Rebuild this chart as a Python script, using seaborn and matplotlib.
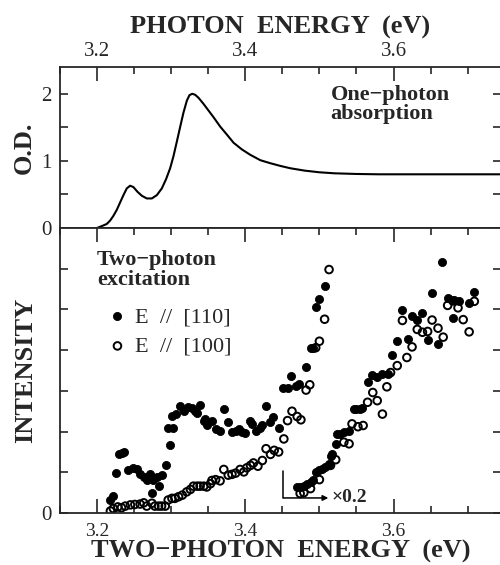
import matplotlib
matplotlib.use("Agg")
import matplotlib.pyplot as plt
from matplotlib.ticker import MultipleLocator
import seaborn as sns

# one-photon absorption (O.D.)
od_energy = [3.200, 3.2068, 3.2131, 3.2176, 3.222, 3.2266, 3.2311, 3.2356, 3.2401, 3.2446,
             3.249, 3.2545, 3.2604, 3.2671, 3.2739, 3.2807, 3.2874, 3.2932, 3.2986, 3.3031,
             3.3077, 3.3122, 3.3166, 3.3212, 3.3247, 3.3284, 3.3324, 3.3369, 3.3436, 3.3504,
             3.3572, 3.3662, 3.3753, 3.3842, 3.3955, 3.4068, 3.4203, 3.4338, 3.4473, 3.4608,
             3.480, 3.500, 3.520, 3.550, 3.580, 3.650, 3.745]
od_value = [0.00, 0.03, 0.06, 0.11, 0.18, 0.27, 0.38, 0.49, 0.59, 0.63,
            0.61, 0.54, 0.48, 0.44, 0.44, 0.49, 0.59, 0.73, 0.89, 1.07,
            1.29, 1.51, 1.72, 1.90, 1.98, 2.00, 1.985, 1.94, 1.85, 1.75,
            1.65, 1.51, 1.39, 1.27, 1.17, 1.09, 1.01, 0.965, 0.925, 0.89,
            0.855, 0.83, 0.815, 0.805, 0.80, 0.80, 0.80]

# two-photon excitation, E // [110] (filled)
e110_energy = [3.218, 3.221, 3.226, 3.229, 3.233, 3.237, 3.242, 3.248, 3.254, 3.258,
               3.263, 3.267, 3.272, 3.274, 3.276, 3.281, 3.283, 3.287, 3.293, 3.298,
               3.296, 3.302, 3.301, 3.307, 3.312, 3.317, 3.323, 3.328, 3.332, 3.335,
               3.339, 3.344, 3.346, 3.349, 3.355, 3.361, 3.366, 3.371, 3.377, 3.382,
               3.387, 3.391, 3.396, 3.400, 3.406, 3.409, 3.414, 3.420, 3.423, 3.428,
               3.434, 3.438, 3.445, 3.451, 3.457, 3.461, 3.468, 3.473, 3.482, 3.488,
               3.491, 3.495, 3.500, 3.507,
               3.470, 3.474, 3.479, 3.483, 3.488, 3.492, 3.495, 3.499, 3.504, 3.508,
               3.513, 3.515, 3.517, 3.522, 3.524, 3.528, 3.533, 3.540, 3.546, 3.550,
               3.555, 3.558, 3.565, 3.571, 3.578, 3.585, 3.592, 3.598, 3.605, 3.612,
               3.619, 3.625, 3.632, 3.639, 3.646, 3.652, 3.660, 3.666, 3.673, 3.680,
               3.682, 3.688, 3.702, 3.709]
e110_value = [0.33, 0.42, 0.99, 1.44, 1.48, 1.51, 1.05, 1.11, 1.09, 0.97,
              0.89, 0.80, 0.97, 0.50, 0.80, 0.89, 0.66, 0.93, 1.17, 1.66,
              2.09, 2.09, 2.39, 2.43, 2.63, 2.51, 2.61, 2.59, 2.51, 2.46,
              2.66, 2.27, 2.31, 2.15, 2.27, 2.07, 2.02, 2.55, 2.23, 1.98,
              2.02, 2.07, 1.98, 1.96, 2.27, 2.19, 2.02, 2.10, 2.15, 2.63,
              2.23, 2.35, 2.10, 3.08, 3.08, 3.37, 3.12, 3.18, 3.59, 4.06,
              4.06, 5.07, 5.25, 5.58,
              0.63, 0.64, 0.66, 0.72, 0.76, 0.82, 1.01, 1.05, 1.09, 1.13,
              1.21, 1.41, 1.44, 1.70, 1.94, 1.94, 1.98, 2.01, 2.55, 2.55,
              2.55, 2.58, 3.23, 3.40, 3.33, 3.42, 3.41, 3.89, 4.22, 4.99,
              4.28, 4.85, 4.74, 4.92, 4.24, 5.41, 4.16, 6.16, 5.29, 4.80,
              5.24, 5.22, 5.16, 5.43]

# two-photon excitation, E // [100] (open)
e100_energy = [3.218, 3.222, 3.228, 3.233, 3.238, 3.245, 3.251, 3.258, 3.263, 3.267,
               3.274, 3.278, 3.283, 3.287, 3.292, 3.296, 3.301, 3.305, 3.310, 3.315,
               3.321, 3.326, 3.330, 3.335, 3.339, 3.344, 3.348, 3.353, 3.355, 3.360,
               3.366, 3.371, 3.377, 3.382, 3.387, 3.393, 3.398, 3.402, 3.407, 3.411,
               3.417, 3.423, 3.428, 3.434, 3.439, 3.445, 3.452, 3.457, 3.463, 3.470,
               3.475, 3.482, 3.487, 3.495, 3.500, 3.507, 3.513,
               3.474, 3.479, 3.488, 3.500, 3.515, 3.522, 3.533, 3.540, 3.544, 3.552,
               3.559, 3.565, 3.572, 3.578, 3.585, 3.591, 3.596, 3.605, 3.618, 3.625,
               3.612, 3.632, 3.639, 3.646, 3.652, 3.660, 3.667, 3.673, 3.680, 3.687,
               3.694, 3.702, 3.709]
e100_value = [0.05, 0.11, 0.15, 0.13, 0.17, 0.20, 0.21, 0.22, 0.25, 0.17,
              0.24, 0.17, 0.17, 0.17, 0.17, 0.32, 0.36, 0.36, 0.40, 0.44,
              0.52, 0.58, 0.66, 0.66, 0.66, 0.66, 0.64, 0.72, 0.80, 0.82,
              0.79, 1.07, 0.93, 0.95, 0.98, 1.07, 1.01, 1.11, 1.17, 1.23,
              1.15, 1.29, 1.58, 1.44, 1.54, 1.50, 1.82, 2.27, 2.50, 2.37,
              2.29, 3.02, 3.15, 4.06, 4.22, 4.76, 5.98,
              0.48, 0.50, 0.60, 0.82, 1.17, 1.31, 1.74, 1.70, 2.19, 2.12,
              2.15, 2.72, 2.96, 2.76, 2.43, 3.10, 3.45, 3.62, 3.82, 4.08,
              4.73, 4.51, 4.44, 4.46, 4.74, 4.54, 4.32, 5.10, 5.21, 5.04,
              4.75, 4.45, 5.20]

# "x0.2" marker: L-shaped bracket in data units
scale_corner = (3.4514, 0.37)
scale_top = 1.02
scale_arrow_end = 3.512

sns.set_style("ticks")
plt.rcParams["font.family"] = ["Liberation Serif", "DejaVu Serif"]

fig = plt.figure(figsize=(5, 5.65), dpi=100)
ax1 = fig.add_axes([0.12, 0.5965, 0.882, 0.285])
ax2 = fig.add_axes([0.12, 0.092, 0.882, 0.5044])

xlim = (3.15, 3.745)

# --- top panel ---
sns.lineplot(x=od_energy, y=od_value, ax=ax1, color="black", lw=1.5,
             estimator=None, sort=False)
ax1.set_xlim(*xlim)
ax1.set_ylim(0, 2.4)
ax1.set_yticks([0, 0.5, 1, 1.5, 2])
ax1.set_yticklabels(["0", "", "1", "", "2"])
ax1.xaxis.set_major_locator(MultipleLocator(0.2))
ax1.xaxis.set_minor_locator(MultipleLocator(0.05))
ax1.xaxis.set_label_position("top")
ax1.set_xlabel("PHOTON  ENERGY  (eV)", fontsize=19, fontweight="bold", labelpad=6)
ax1.set_ylabel("O.D.", fontsize=19, fontweight="bold", labelpad=4)
ax1.tick_params(axis="x", which="both", direction="in", top=True, bottom=False,
                labeltop=True, labelbottom=False, labelsize=15, pad=4)
ax1.tick_params(axis="x", which="major", length=10, width=1.2)
ax1.tick_params(axis="x", which="minor", length=5, width=1.2)
ax1.tick_params(axis="y", direction="in", left=True, right=True, length=6,
                width=1.2, labelsize=15, pad=6)
ax1.text(3.515, 2.13, "One\u2212photon\nabsorption", fontsize=16, fontweight="bold",
         ha="left", va="top", linespacing=0.95)

# --- bottom panel ---
sns.scatterplot(x=e110_energy, y=e110_value, ax=ax2, marker="o", s=34,
                color="black", edgecolor="black", linewidth=0.6,
                label="E  //  [110]")
sns.scatterplot(x=e100_energy, y=e100_value, ax=ax2, marker="o", s=30,
                facecolor="none", edgecolor="black", linewidth=1.4,
                label="E  //  [100]")
ax2.set_xlim(*xlim)
ax2.set_ylim(0, 7)
ax2.set_yticks(range(0, 7))
ax2.set_yticklabels(["0", "", "", "", "", "", ""])
ax2.xaxis.set_major_locator(MultipleLocator(0.2))
ax2.xaxis.set_minor_locator(MultipleLocator(0.05))
ax2.set_xlabel("TWO\u2212PHOTON  ENERGY  (eV)", fontsize=19, fontweight="bold",
               labelpad=0)
ax2.set_ylabel("INTENSITY", fontsize=19, fontweight="bold", labelpad=3)
ax2.tick_params(axis="x", which="both", direction="in", top=True, bottom=True,
                labelsize=14, pad=7)
ax2.tick_params(axis="x", which="major", length=10, width=1.2)
ax2.tick_params(axis="x", which="minor", length=5, width=1.2)
ax2.tick_params(axis="y", direction="in", left=True, right=True, length=6,
                width=1.2, labelsize=15, pad=6)
ax2.text(3.2, 6.45, "Two\u2212photon\nexcitation", fontsize=16, fontweight="bold",
         ha="left", va="top", linespacing=0.95)

leg = ax2.legend(loc="upper left", bbox_to_anchor=(0.095, 0.755), frameon=False,
                 fontsize=16, handlelength=0.6, handletextpad=0.5,
                 labelspacing=0.4, borderaxespad=0)

ax2.plot([scale_corner[0], scale_corner[0]], [scale_top, scale_corner[1]],
         color="black", lw=1.1)
ax2.annotate("", xy=(scale_arrow_end, scale_corner[1]), xytext=scale_corner,
             arrowprops=dict(arrowstyle="-|>", color="black", lw=1.1,
                             mutation_scale=8, shrinkA=0, shrinkB=0))
ax2.text(scale_arrow_end + 0.005, scale_corner[1], "\u00d70.2", fontsize=14,
         fontweight="bold", ha="left", va="center")

for ax in (ax1, ax2):
    for sp in ax.spines.values():
        sp.set_linewidth(1.3)
        sp.set_visible(True)

fig.savefig("out.png", dpi=100)
